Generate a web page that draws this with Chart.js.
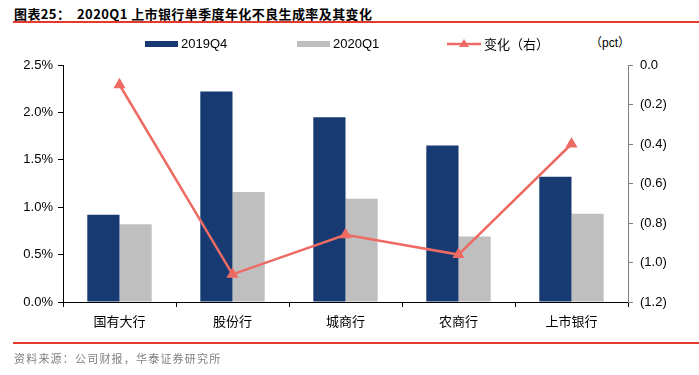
<!DOCTYPE html>
<html>
<head>
<meta charset="utf-8">
<script src="https://cdn.jsdelivr.net/npm/chart.js@4"></script>
<style>
  body { margin: 0; background: #fff; }
  #wrap { position: relative; width: 699px; height: 375px; overflow: hidden; }
  #graf { position: absolute; left: 0; top: 0; }
  .titulo { position: absolute; left: 14px; top: 4px; font: bold 13px "Noto Sans CJK SC", "Liberation Sans", sans-serif; letter-spacing: 0.4px; color: #000; white-space: nowrap; }
  .linha { position: absolute; left: 13px; width: 686px; height: 2px; background: #E4392B; }
  .fonte { position: absolute; left: 14px; top: 350px; font: 11px "Noto Sans CJK SC", sans-serif; letter-spacing: 1.2px; color: #7f7f7f; white-space: nowrap; }
  .pct { position: absolute; left: 590px; top: 33px; font: 12px "Liberation Sans", "Noto Sans CJK SC", sans-serif; color: #000; }
</style>
</head>
<body>
<div id="wrap">
  <div class="titulo">图表25：&nbsp; 2020Q1 上市银行单季度年化不良生成率及其变化</div>
  <div class="linha" style="top:21px"></div>
  <div class="pct">（pct）</div>
  <canvas id="graf" width="699" height="375"></canvas>
  <div class="linha" style="top:342px"></div>
  <div class="fonte">资料来源：公司财报，华泰证券研究所</div>
</div>
<script>
// categorias e valores
var bancos = ['国有大行', '股份行', '城商行', '农商行', '上市银行'];
var q4_2019 = [0.92, 2.22, 1.95, 1.65, 1.32];
var q1_2020 = [0.82, 1.16, 1.09, 0.69, 0.93];
var variacao = [-0.10, -1.06, -0.86, -0.96, -0.40];

var azul = '#173A73';
var cinza = '#BFBFBF';
var vermelho = '#EE6B64';

// legenda desenhada à mão
var legendaPlugin = {
    id: 'legenda',
    afterDraw: function (chart) {
        var ctx = chart.ctx;
        ctx.save();
        ctx.font = '13px "Liberation Sans", sans-serif';
        ctx.textBaseline = 'middle';
        var y = 44;
        ctx.fillStyle = azul;
        ctx.fillRect(145, y - 3, 33, 6);
        ctx.fillStyle = '#000';
        ctx.fillText('2019Q4', 181, y);
        ctx.fillStyle = cinza;
        ctx.fillRect(297, y - 3, 33, 6);
        ctx.fillStyle = '#000';
        ctx.fillText('2020Q1', 333, y);
        ctx.strokeStyle = vermelho;
        ctx.lineWidth = 2.5;
        ctx.beginPath();
        ctx.moveTo(447, y);
        ctx.lineTo(481, y);
        ctx.stroke();
        ctx.fillStyle = vermelho;
        ctx.beginPath();
        ctx.moveTo(464, y - 5);
        ctx.lineTo(469, y + 3);
        ctx.lineTo(459, y + 3);
        ctx.closePath();
        ctx.fill();
        ctx.fillStyle = '#000';
        ctx.font = '13px "Noto Sans CJK SC", sans-serif';
        ctx.fillText('变化（右）', 484, y);
        ctx.restore();
    }
};

var config = {
    data: {
        labels: bancos,
        datasets: [
            {
                type: 'line',
                label: '变化（右）',
                data: variacao,
                yAxisID: 'y2',
                borderColor: vermelho,
                backgroundColor: vermelho,
                borderWidth: 2.5,
                pointStyle: 'triangle',
                pointRadius: 4.5,
                pointHoverRadius: 4.5,
                tension: 0,
                order: 0
            },
            {
                type: 'bar',
                label: '2019Q4',
                data: q4_2019,
                yAxisID: 'y',
                backgroundColor: azul,
                categoryPercentage: 0.57,
                barPercentage: 1,
                order: 1
            },
            {
                type: 'bar',
                label: '2020Q1',
                data: q1_2020,
                yAxisID: 'y',
                backgroundColor: cinza,
                categoryPercentage: 0.57,
                barPercentage: 1,
                order: 1
            }
        ]
    },
    options: {
        responsive: false,
        animation: false,
        layout: { padding: { left: 0, right: 0, top: 65, bottom: 0 } },
        plugins: {
            legend: { display: false },
            tooltip: { enabled: false }
        },
        scales: {
            x: {
                grid: { display: true, drawOnChartArea: false, offset: true, tickLength: 5, color: '#000' },
                border: { color: '#000', width: 1 },
                ticks: { color: '#000', font: { size: 13, family: '"Noto Sans CJK SC", sans-serif' }, padding: 6 },
                afterFit: function (s) { s.height = 73; }
            },
            y: {
                position: 'left',
                min: 0,
                max: 2.5,
                grid: { display: true, drawOnChartArea: false, tickLength: 5, color: '#000' },
                border: { color: '#000', width: 1 },
                ticks: {
                    stepSize: 0.5,
                    color: '#000',
                    font: { size: 13, family: '"Liberation Sans", sans-serif' },
                    padding: 5,
                    callback: function (v) { return v.toFixed(1) + '%'; }
                },
                afterFit: function (s) { s.width = 63; }
            },
            y2: {
                position: 'right',
                min: -1.2,
                max: 0,
                grid: { display: true, drawOnChartArea: false, tickLength: 5, color: '#7f7f7f' },
                border: { color: '#7f7f7f', width: 1 },
                ticks: {
                    stepSize: 0.2,
                    color: '#000',
                    font: { size: 13, family: '"Liberation Sans", sans-serif' },
                    padding: 7,
                    callback: function (v) {
                        var t = Math.abs(v).toFixed(1);
                        return v < -0.001 ? '(' + t + ')' : t;
                    }
                },
                afterFit: function (s) { s.width = 71; }
            }
        }
    },
    plugins: [legendaPlugin]
};

var ctx = document.getElementById('graf').getContext('2d');
window.grafico = new Chart(ctx, config);
</script>
</body>
</html>
